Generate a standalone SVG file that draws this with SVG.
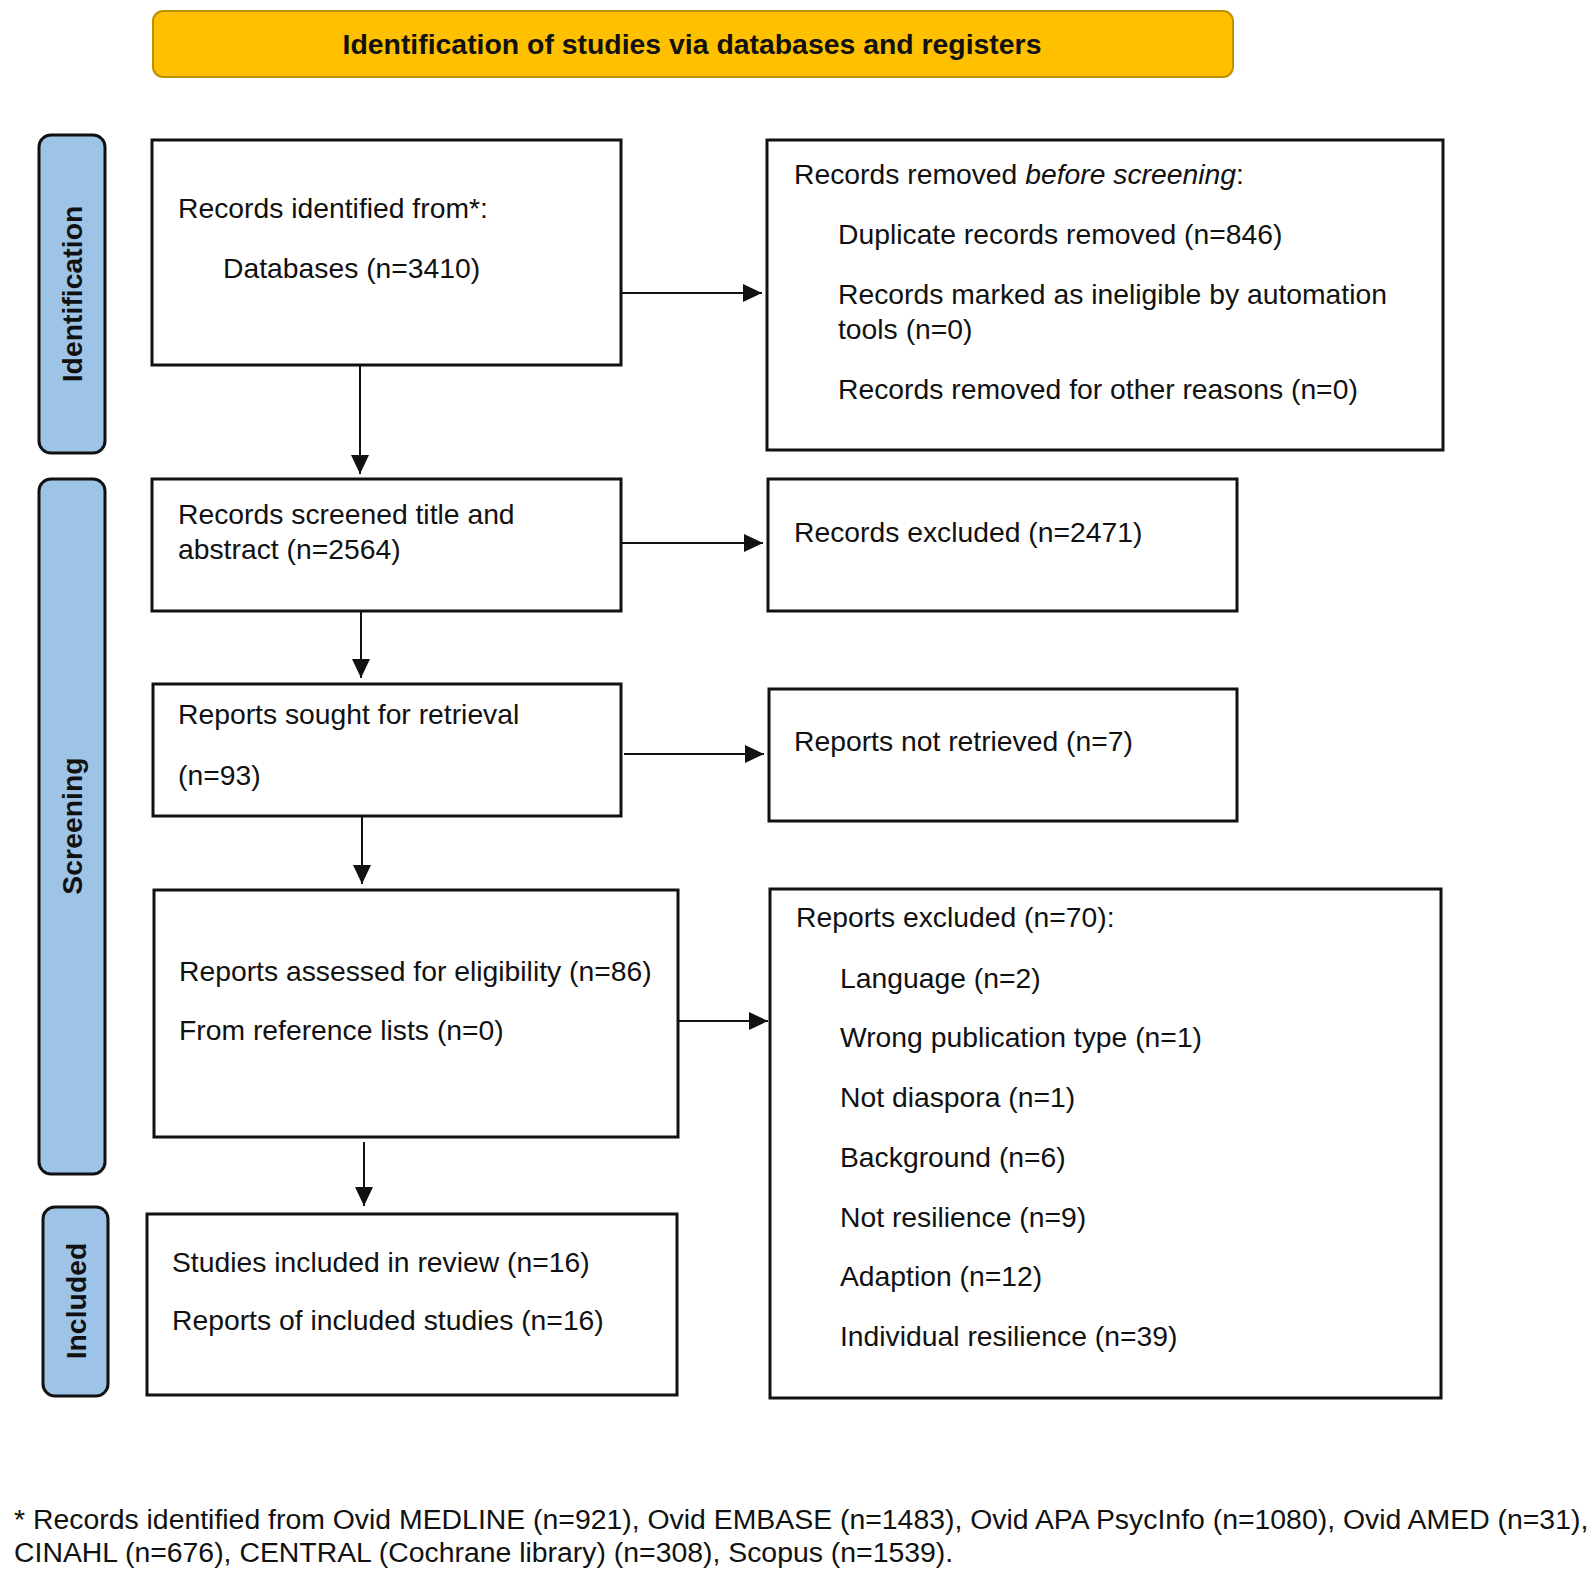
<svg xmlns="http://www.w3.org/2000/svg" width="1595" height="1584" viewBox="0 0 1595 1584">
<style>
.box{fill:#ffffff;stroke:#111111;stroke-width:3}
.lab{fill:#9DC3E6;stroke:#111111;stroke-width:3}
.t{font-family:"Liberation Sans",Arial,sans-serif;font-size:28.3px;fill:#111111}
.lt{font-family:"Liberation Sans",Arial,sans-serif;font-size:28.4px;font-weight:bold;fill:#111111;text-anchor:middle}
.ft{font-family:"Liberation Sans",Arial,sans-serif;font-size:28.4px;fill:#111111}
.c{stroke:#111111;stroke-width:2;fill:none;marker-end:url(#ah)}
</style>
<defs>
<marker id="ah" markerUnits="userSpaceOnUse" markerWidth="20" markerHeight="18" refX="19" refY="9" orient="auto">
<path d="M0,0 L19,9 L0,18 z" fill="#111111"/>
</marker>
</defs>
<rect width="1595" height="1584" fill="#ffffff"/>

<g id="title">
<rect x="153" y="11" width="1080" height="66" rx="10" fill="#FFC000" stroke="#BF9000" stroke-width="2"/>
<text class="lt" x="692" y="54">Identification of studies via databases and registers</text>
</g>

<g id="label-identification">
<rect class="lab" x="39" y="135" width="66" height="318" rx="12"/>
<text class="lt" transform="translate(72,294) rotate(-90)" x="0" y="10">Identification</text>
</g>
<g id="label-screening">
<rect class="lab" x="39" y="479" width="66" height="695" rx="12"/>
<text class="lt" transform="translate(72,826) rotate(-90)" x="0" y="10">Screening</text>
</g>
<g id="label-included">
<rect class="lab" x="43" y="1207" width="65" height="189" rx="12"/>
<text class="lt" transform="translate(75.5,1301) rotate(-90)" x="0" y="10">Included</text>
</g>

<g id="records-identified">
<rect class="box" x="152" y="140" width="469" height="225"/>
<text class="t" x="178" y="218">Records identified from*:</text>
<text class="t" x="223" y="278">Databases (n=3410)</text>
</g>

<g id="records-removed">
<rect class="box" x="767" y="140" width="676" height="310"/>
<text class="t" x="794" y="184">Records removed <tspan font-style="italic">before screening</tspan>:</text>
<text class="t" x="838" y="244">Duplicate records removed (n=846)</text>
<text class="t" x="838" y="304">Records marked as ineligible by automation</text>
<text class="t" x="838" y="339">tools (n=0)</text>
<text class="t" x="838" y="399">Records removed for other reasons (n=0)</text>
</g>

<g id="records-screened">
<rect class="box" x="152" y="479" width="469" height="132"/>
<text class="t" x="178" y="524">Records screened title and</text>
<text class="t" x="178" y="559">abstract (n=2564)</text>
</g>

<g id="records-excluded">
<rect class="box" x="768" y="479" width="469" height="132"/>
<text class="t" x="794" y="542">Records excluded (n=2471)</text>
</g>

<g id="reports-sought">
<rect class="box" x="153" y="684" width="468" height="132"/>
<text class="t" x="178" y="724">Reports sought for retrieval</text>
<text class="t" x="178" y="785">(n=93)</text>
</g>

<g id="reports-not-retrieved">
<rect class="box" x="769" y="689" width="468" height="132"/>
<text class="t" x="794" y="751">Reports not retrieved (n=7)</text>
</g>

<g id="reports-assessed">
<rect class="box" x="154" y="890" width="524" height="247"/>
<text class="t" x="179" y="981">Reports assessed for eligibility (n=86)</text>
<text class="t" x="179" y="1040">From reference lists (n=0)</text>
</g>

<g id="reports-excluded">
<rect class="box" x="770" y="889" width="671" height="509"/>
<text class="t" x="796" y="927">Reports excluded (n=70):</text>
<text class="t" x="840" y="988">Language (n=2)</text>
<text class="t" x="840" y="1047">Wrong publication type (n=1)</text>
<text class="t" x="840" y="1107">Not diaspora (n=1)</text>
<text class="t" x="840" y="1167">Background (n=6)</text>
<text class="t" x="840" y="1227">Not resilience (n=9)</text>
<text class="t" x="840" y="1286">Adaption (n=12)</text>
<text class="t" x="840" y="1346">Individual resilience (n=39)</text>
</g>

<g id="studies-included">
<rect class="box" x="147" y="1214" width="530" height="181"/>
<text class="t" x="172" y="1272">Studies included in review (n=16)</text>
<text class="t" x="172" y="1330">Reports of included studies (n=16)</text>
</g>

<g id="connectors">
<line class="c" x1="621" y1="293" x2="762" y2="293"/>
<line class="c" x1="360" y1="365" x2="360" y2="474"/>
<line class="c" x1="621" y1="543" x2="763" y2="543"/>
<line class="c" x1="361" y1="611" x2="361" y2="678"/>
<line class="c" x1="624" y1="754" x2="764" y2="754"/>
<line class="c" x1="362" y1="817" x2="362" y2="884"/>
<line class="c" x1="678" y1="1021" x2="768" y2="1021"/>
<line class="c" x1="364" y1="1142" x2="364" y2="1206"/>
</g>

<g id="footnote">
<text class="ft" x="14" y="1529">* Records identified from Ovid MEDLINE (n=921), Ovid EMBASE (n=1483), Ovid APA PsycInfo (n=1080), Ovid AMED (n=31),</text>
<text class="ft" x="14" y="1562">CINAHL (n=676), CENTRAL (Cochrane library) (n=308), Scopus (n=1539).</text>
</g>
</svg>
